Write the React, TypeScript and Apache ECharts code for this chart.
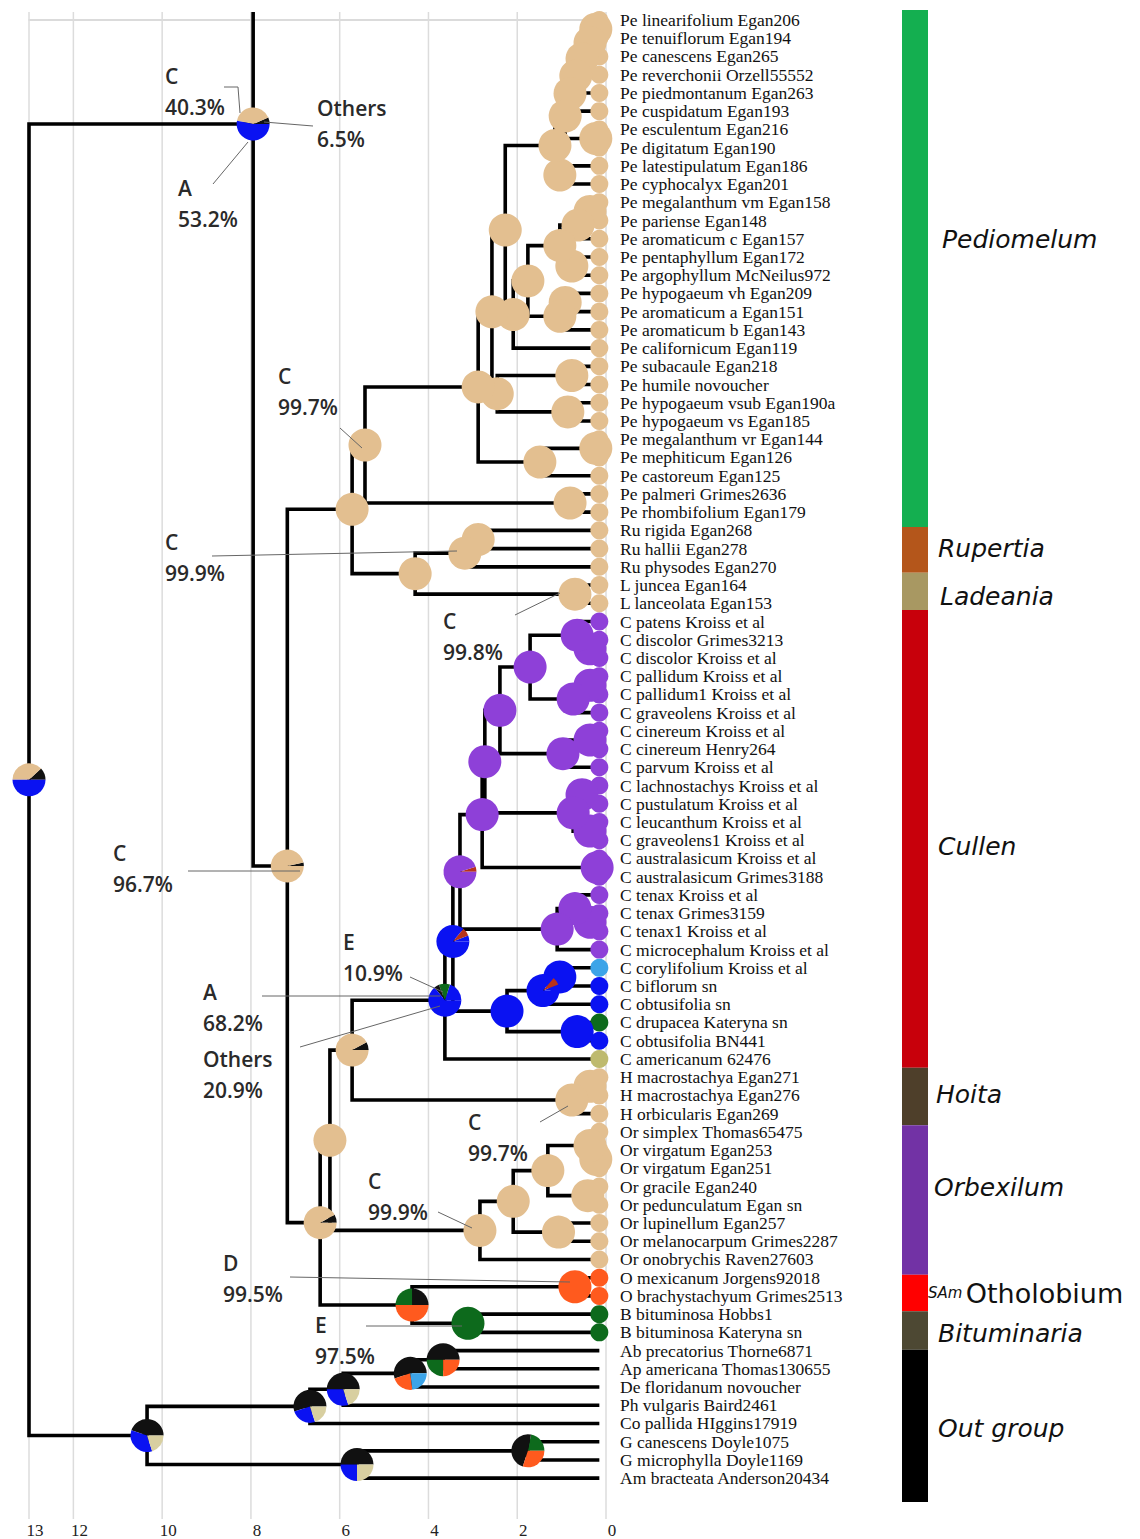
import React, { useEffect, useRef } from 'react';
import * as echarts from 'echarts';

// ---------------- data ----------------
const taxa = [
  'Pe linearifolium Egan206', 'Pe tenuiflorum Egan194', 'Pe canescens Egan265', 'Pe reverchonii Orzell55552',
  'Pe piedmontanum Egan263', 'Pe cuspidatum Egan193', 'Pe esculentum Egan216', 'Pe digitatum Egan190',
  'Pe latestipulatum Egan186', 'Pe cyphocalyx Egan201', 'Pe megalanthum vm Egan158', 'Pe pariense Egan148',
  'Pe aromaticum c Egan157', 'Pe pentaphyllum Egan172', 'Pe argophyllum McNeilus972', 'Pe hypogaeum vh Egan209',
  'Pe aromaticum a Egan151', 'Pe aromaticum b Egan143', 'Pe californicum Egan119', 'Pe subacaule Egan218',
  'Pe humile novoucher', 'Pe hypogaeum vsub Egan190a', 'Pe hypogaeum vs Egan185', 'Pe megalanthum vr Egan144',
  'Pe mephiticum Egan126', 'Pe castoreum Egan125', 'Pe palmeri Grimes2636', 'Pe rhombifolium Egan179',
  'Ru rigida Egan268', 'Ru hallii Egan278', 'Ru physodes Egan270', 'L juncea Egan164', 'L lanceolata Egan153',
  'C patens Kroiss et al', 'C discolor Grimes3213', 'C discolor Kroiss et al', 'C pallidum Kroiss et al',
  'C pallidum1 Kroiss et al', 'C graveolens Kroiss et al', 'C cinereum Kroiss et al', 'C cinereum Henry264',
  'C parvum Kroiss et al', 'C lachnostachys Kroiss et al', 'C pustulatum Kroiss et al', 'C leucanthum Kroiss et al',
  'C graveolens1 Kroiss et al', 'C australasicum Kroiss et al', 'C australasicum Grimes3188', 'C tenax Kroiss et al',
  'C tenax Grimes3159', 'C tenax1 Kroiss et al', 'C microcephalum Kroiss et al', 'C corylifolium Kroiss et al',
  'C biflorum sn', 'C obtusifolia sn', 'C drupacea Kateryna sn', 'C obtusifolia BN441', 'C americanum 62476',
  'H macrostachya Egan271', 'H macrostachya Egan276', 'H orbicularis Egan269',
  'Or simplex Thomas65475', 'Or virgatum Egan253', 'Or virgatum Egan251', 'Or gracile Egan240',
  'Or pedunculatum Egan sn', 'Or lupinellum Egan257', 'Or melanocarpum Grimes2287', 'Or onobrychis Raven27603',
  'O mexicanum Jorgens92018', 'O brachystachyum Grimes2513', 'B bituminosa Hobbs1', 'B bituminosa Kateryna sn',
  'Ab precatorius Thorne6871', 'Ap americana Thomas130655', 'De floridanum novoucher', 'Ph vulgaris Baird2461',
  'Co pallida HIggins17919', 'G canescens Doyle1075', 'G microphylla Doyle1169', 'Am bracteata Anderson20434',
];

// ancestral area of each tip (one letter per taxon, '-' = no pie)
const tipAreas = [
  'CCCCCCCCCC', 'CCCCCCCCCC', 'CCCCCCCC', // Pediomelum (28)
  'CCC', 'CC', // Rupertia, Ladeania
  'PPPPPPPPPP', 'PPPPPPPPP', // Cullen, Australia (19)
  'LAAGAK', // other Cullen
  'CCC', // Hoita
  'CCCCCCCC', // Orbexilum
  'OO', 'GG', // Otholobium, Bituminaria
  '--------', // out group
].join('');

const TIP_AGE = 0.15;
const OFF_FIGURE = -35; // sister lineage above the cropped figure

// internal nodes: [id, age (Ma), children (node ids or tip indices), area probabilities]
const nodeDefs: [string, number, (string | number)[], string][] = [
  ['pa', 0.23, [0, 1], 'C'],
  ['pb', 0.36, ['pa', 2], 'C'],
  ['pc', 0.54, ['pb', 3], 'C'],
  ['pd', 0.68, ['pc', 4], 'C'],
  ['pe', 0.81, ['pd', 5], 'C'],
  ['pf', 0.23, [6, 7], 'C'],
  ['pg', 0.92, ['pe', 'pf'], 'C'],
  ['ph', 1.04, [8, 9], 'C'],
  ['pi', 1.15, ['pg', 'ph'], 'C'],
  ['pj', 0.36, [10, 11], 'C'],
  ['pk', 0.63, ['pj', 12], 'C'],
  ['pl', 0.77, [13, 14], 'C'],
  ['pm', 1.04, ['pk', 'pl'], 'C'],
  ['pn', 0.92, [15, 16], 'C'],
  ['po', 1.04, ['pn', 17], 'C'],
  ['pp', 1.76, ['pm', 'po'], 'C'],
  ['pq', 2.09, ['pp', 18], 'C'],
  ['pr', 2.27, ['pi', 'pq'], 'C'],
  ['ps', 0.77, [19, 20], 'C'],
  ['pt', 0.86, [21, 22], 'C'],
  ['pu', 2.45, ['ps', 'pt'], 'C'],
  ['pv', 2.57, ['pr', 'pu'], 'C'],
  ['pw', 0.23, [23, 24], 'C'],
  ['px', 1.49, ['pw', 25], 'C'],
  ['py', 2.88, ['pv', 'px'], 'C'],
  ['pz', 0.81, [26, 27], 'C'],
  ['P', 5.43, ['py', 'pz'], 'C'],
  ['ra', 2.88, [28, 29], 'C'],
  ['rb', 3.18, ['ra', 30], 'C'],
  ['la', 0.7, [31, 32], 'C'],
  ['RL', 4.3, ['rb', 'la'], 'C'],
  ['PRL', 5.72, ['P', 'RL'], 'C'],
  ['ca', 0.36, [34, 35], 'P'],
  ['cb', 0.65, [33, 'ca'], 'P'],
  ['cc', 0.36, [36, 37], 'P'],
  ['cd', 0.74, ['cc', 38], 'P'],
  ['ce', 1.71, ['cb', 'cd'], 'P'],
  ['cf', 0.36, [39, 40], 'P'],
  ['cg', 0.97, ['cf', 41], 'P'],
  ['ch', 2.39, ['ce', 'cg'], 'P'],
  ['ci', 0.54, [42, 43], 'P'],
  ['cj', 0.36, [44, 45], 'P'],
  ['ck', 0.74, ['ci', 'cj'], 'P'],
  ['cl', 2.73, ['ch', 'ck'], 'P'],
  ['cm', 0.2, [46, 47], 'P'],
  ['cn', 2.79, ['cl', 'cm'], 'P'],
  ['co', 0.36, [49, 50], 'P'],
  ['cp', 0.7, [48, 'co'], 'P'],
  ['cq', 1.1, ['cp', 51], 'P'],
  ['cr', 3.29, ['cn', 'cq'], 'R.05 P.95'],
  ['cs', 1.04, [52, 53], 'A'],
  ['ct', 1.42, ['cs', 54], 'A.06 R.08 A.86'],
  ['cu', 0.65, [55, 56], 'A'],
  ['cv', 2.23, ['ct', 'cu'], 'A'],
  ['cw', 3.45, ['cr', 'cv'], 'A.06 R.08 A.86'],
  ['cx', 3.63, ['cw', 57], 'A.2 G.109 X.05 A.641'],
  ['ha', 0.36, [58, 59], 'C'],
  ['hb', 0.77, ['ha', 60], 'C'],
  ['X3', 5.72, ['cx', 'hb'], 'X.08 C.92'],
  ['oa', 0.23, [62, 63], 'C'],
  ['ob', 0.36, [61, 'oa'], 'C'],
  ['oc', 0.41, [64, 65], 'C'],
  ['od', 1.31, ['ob', 'oc'], 'C'],
  ['oe', 1.07, [66, 67], 'C'],
  ['of', 2.09, ['od', 'oe'], 'C'],
  ['og', 2.84, ['of', 68], 'C'],
  ['X4', 6.22, ['X3', 'og'], 'C'],
  ['ot', 0.7, [69, 70], 'O'],
  ['bi', 3.11, [71, 72], 'G'],
  ['OB', 4.37, ['ot', 'bi'], 'X.25 G.25 O.5'],
  ['X5', 6.44, ['X4', 'OB'], 'X.08 C.92'],
  ['C967', 7.18, ['PRL', 'X5'], 'X.033 C.967'],
  ['Top', 7.95, [OFF_FIGURE, 'C967'], 'X.065 C.403 A.532'],
  ['g1', 3.67, [73, 74], 'X.5 G.25 O.25'],
  ['g2', 4.41, ['g1', 75], 'X.55 O.22 L.23'],
  ['g3', 5.92, ['g2', 76], 'X.5 A.3 B.2'],
  ['g4', 6.67, ['g3', 77], 'X.55 A.25 B.2'],
  ['g5', 1.76, [78, 79], 'G.22 X.48 O.3'],
  ['g6', 5.61, ['g5', 80], 'X.5 A.25 B.25'],
  ['OG', 10.34, ['g4', 'g6'], 'X.45 A.35 B.2'],
  ['Root', 13.0, ['Top', 'OG'], 'X.12 C.38 A.5'],
];

const axisTickValues = [13, 12, 10, 8, 6, 4, 2, 0];

const genusNames = ['Pediomelum', 'Rupertia', 'Ladeania', 'Cullen', 'Hoita', 'Orbexilum', 'SAm Otholobium', 'Bituminaria', 'Out group'];
const genusFrom = [-0.55, 27.8, 30.3, 32.35, 57.45, 60.6, 68.8, 70.8, 72.9];
const genusTo = [27.8, 30.3, 32.35, 57.45, 60.6, 68.8, 70.8, 72.9, 81.25];

// ---------------- styles / layout ----------------
const areaColors: Record<string, string> = {
  C: '#E3BF90', A: '#0A12F2', P: '#8E40D8', O: '#FF5A1E', G: '#0D6A1C',
  L: '#3CA4E8', K: '#BEBA6E', X: '#111111', R: '#B8321A', B: '#D8CFA0',
};
const genusColors = ['#14AF50', '#B4561B', '#A89862', '#C8000B', '#4E3F2A', '#7232A5', '#FF0000', '#4D4833', '#000000'];
const genusLabelAt = [12.06, 28.95, 31.6, 45.3, 58.9, 64.0, 69.8, 72.0, 77.2];
const genusLabelDx = [14, 10, 12, 10, 8, 6, 0, 10, 10];

const annotations = [
  { lines: ['C', '40.3%'], x: 165, y: 60, leader: [[224, 87], [238, 87], [240, 113]] },
  { lines: ['Others', '6.5%'], x: 317, y: 92, leader: [[313, 126], [264, 122]] },
  { lines: ['A', '53.2%'], x: 178, y: 172, leader: [[213, 184], [248, 142]] },
  { lines: ['C', '99.7%'], x: 278, y: 360, leader: [[340, 428], [362, 448]] },
  { lines: ['C', '99.9%'], x: 165, y: 526, leader: [[212, 556], [457, 551]] },
  { lines: ['C', '99.8%'], x: 443, y: 605, leader: [[515, 615], [560, 593]] },
  { lines: ['C', '96.7%'], x: 113, y: 837, leader: [[188, 871], [300, 871]] },
  { lines: ['E', '10.9%'], x: 343, y: 926, leader: [[410, 977], [443, 992]] },
  { lines: ['A', '68.2%'], x: 203, y: 976, leader: [[262, 996], [440, 996]] },
  { lines: ['Others', '20.9%'], x: 203, y: 1043, leader: [[300, 1047], [440, 1006]] },
  { lines: ['C', '99.7%'], x: 468, y: 1106, leader: [[540, 1122], [568, 1106]] },
  { lines: ['C', '99.9%'], x: 368, y: 1165, leader: [[438, 1212], [472, 1228]] },
  { lines: ['D', '99.5%'], x: 223, y: 1247, leader: [[290, 1277], [570, 1282]] },
  { lines: ['E', '97.5%'], x: 315, y: 1309, leader: [[366, 1326], [462, 1326]] },
];

const Y_MIN = -0.44;
const Y_MAX = 82.24;

type Slice = { c: string; f: number };
function parsePie(spec: string): Slice[] {
  return spec.split(' ').map((tok) => ({ c: tok[0], f: tok.length > 1 ? parseFloat(tok.slice(1)) : 1 }));
}

function buildTree() {
  const pos: Record<string, { age: number; y: number }> = {};
  const get = (k: string | number) => (typeof k === 'number' ? { age: TIP_AGE, y: k } : pos[k]);
  const lines: number[][][] = [];
  const pies: { age: number; y: number; slices: Slice[]; r: number }[] = [];
  taxa.forEach((_, i) => {
    const a = tipAreas[i];
    if (a && a !== '-') pies.push({ age: TIP_AGE, y: i, slices: [{ c: a, f: 1 }], r: 9 });
  });
  for (const [id, age, kids, spec] of nodeDefs) {
    const ks = kids.map(get);
    const first = ks[0];
    const last = ks[ks.length - 1];
    const y = (first.y + last.y) / 2;
    pos[id] = { age, y };
    const pts: number[][] = [];
    if (first.y >= Y_MIN) pts.push([first.age, first.y], [age, first.y]);
    else pts.push([age, Y_MIN]);
    pts.push([age, last.y], [last.age, last.y]);
    lines.push(pts);
    for (let j = 1; j < ks.length - 1; j++) lines.push([[age, ks[j].y], [ks[j].age, ks[j].y]]);
    pies.push({ age, y, slices: parsePie(spec), r: 16.5 });
  }
  return { lines, pies };
}

export default function App() {
  const ref = useRef<HTMLDivElement>(null);
  useEffect(() => {
    document.body.style.margin = '0';
    if (!ref.current) return;
    const chart = echarts.init(ref.current, undefined, { renderer: 'svg' });
    const { lines, pies } = buildTree();

    const option: any = {
      animation: false,
      backgroundColor: '#ffffff',
      grid: [
        { left: 29, top: 12, width: 577, height: 1508 },
        { left: 902, top: 12, width: 26, height: 1508 },
      ],
      xAxis: [
        {
          type: 'value', gridIndex: 0, min: 0, max: 13, interval: 1, inverse: true,
          splitLine: { show: false }, axisTick: { show: false },
          axisLine: { show: true, lineStyle: { color: '#cfcfcf', width: 1.5 } },
          axisLabel: {
            margin: 3, padding: [0, 0, 0, 12], color: '#222', fontFamily: 'Liberation Serif', fontSize: 17,
            formatter: (v: number) => (axisTickValues.indexOf(v) >= 0 ? String(v) : ''),
          },
        },
        { type: 'value', gridIndex: 1, min: 0, max: 1, show: false },
      ],
      yAxis: [
        { type: 'value', gridIndex: 0, min: Y_MIN, max: Y_MAX, inverse: true, show: false },
        { type: 'value', gridIndex: 1, min: Y_MIN, max: Y_MAX, inverse: true, show: false },
      ],
      series: [
        {
          type: 'custom', name: 'grid lines', silent: true, z: 1,
          xAxisIndex: 0, yAxisIndex: 0,
          data: axisTickValues.map((t) => [t, 0]),
          renderItem: (params: any, api: any) => {
            const c = api.coord([api.value(0), 0]);
            const cs = params.coordSys;
            return {
              type: 'line',
              shape: { x1: c[0], y1: cs.y, x2: c[0], y2: cs.y + cs.height },
              style: { stroke: '#dcdcdc', lineWidth: 1.5 },
            };
          },
        },
        {
          type: 'custom', name: 'branches', silent: true, z: 2,
          xAxisIndex: 0, yAxisIndex: 0,
          data: lines.map((l) => [l[0][0], l[0][1]]),
          renderItem: (params: any, api: any) => {
            const pts = lines[params.dataIndex].map((p) => api.coord(p));
            return {
              type: 'polyline',
              shape: { points: pts },
              style: { stroke: '#000', lineWidth: 3.6, fill: 'none', lineJoin: 'miter' },
            };
          },
        },
        {
          type: 'custom', name: 'areas', silent: true, z: 3,
          xAxisIndex: 0, yAxisIndex: 0,
          data: pies.map((p) => [p.age, p.y]),
          renderItem: (params: any, api: any) => {
            const p = pies[params.dataIndex];
            const c = api.coord([api.value(0), api.value(1)]);
            if (p.slices.length === 1) {
              return {
                type: 'circle',
                shape: { cx: c[0], cy: c[1], r: p.r },
                style: { fill: areaColors[p.slices[0].c] },
              };
            }
            let cum = 0;
            const children = p.slices.map((s) => {
              const a0 = cum * Math.PI * 2;
              cum += s.f;
              const a1 = cum * Math.PI * 2;
              return {
                type: 'sector',
                shape: { cx: c[0], cy: c[1], r: p.r, r0: 0, startAngle: -a0, endAngle: -a1, clockwise: false },
                style: { fill: areaColors[s.c] },
              };
            });
            return { type: 'group', children };
          },
        },
        {
          type: 'custom', name: 'taxa', silent: true, z: 4,
          xAxisIndex: 0, yAxisIndex: 0,
          data: taxa.map((_, i) => [0, i]),
          renderItem: (params: any, api: any) => {
            const c = api.coord([0, api.value(1)]);
            return {
              type: 'text',
              x: c[0] + 14,
              y: c[1],
              style: {
                text: taxa[params.dataIndex],
                fill: '#111',
                font: '17.5px "Liberation Serif"',
                align: 'left', verticalAlign: 'middle',
                textAlign: 'left', textVerticalAlign: 'middle',
              },
            };
          },
        },
        {
          type: 'custom', name: 'genera', silent: true, z: 2,
          xAxisIndex: 1, yAxisIndex: 1,
          data: genusNames.map((_, i) => [0, genusFrom[i], genusTo[i]]),
          renderItem: (params: any, api: any) => {
            const i = params.dataIndex;
            const a = api.coord([0, api.value(1)]);
            const b = api.coord([1, api.value(2)]);
            const l = api.coord([1, genusLabelAt[i]]);
            const name = genusNames[i];
            const isSAm = name.indexOf('SAm ') === 0;
            return {
              type: 'group',
              children: [
                {
                  type: 'rect',
                  shape: { x: a[0], y: a[1], width: b[0] - a[0], height: b[1] - a[1] },
                  style: { fill: genusColors[i] },
                },
                {
                  type: 'text',
                  x: b[0] + genusLabelDx[i],
                  y: l[1],
                  style: isSAm
                    ? {
                        text: '{s|SAm} {b|' + name.slice(4) + '}',
                        fill: '#111',
                        align: 'left', verticalAlign: 'middle',
                        textAlign: 'left', textVerticalAlign: 'middle',
                        rich: {
                          s: { fontFamily: 'DejaVu Sans', fontStyle: 'italic', fontSize: 15, fill: '#111' },
                          b: { fontFamily: 'DejaVu Sans', fontSize: 27, fill: '#111' },
                        },
                      }
                    : {
                        text: name,
                        fill: '#111',
                        font: 'italic 25px "DejaVu Sans"',
                        align: 'left', verticalAlign: 'middle',
                        textAlign: 'left', textVerticalAlign: 'middle',
                      },
                },
              ],
            };
          },
        },
      ],
      graphic: annotations.flatMap((an) => [
        {
          type: 'polyline', z: 50, silent: true,
          shape: { points: an.leader },
          style: { stroke: '#666', lineWidth: 1, fill: 'none' },
        },
        {
          type: 'text', z: 51, silent: true,
          x: an.x, y: an.y,
          style: {
            text: an.lines.join('\n'),
            fill: '#2a2a2a',
            font: '600 21px "Open Sans"',
            lineHeight: 31,
            textVerticalAlign: 'top', verticalAlign: 'top',
          },
        },
      ]),
    };
    chart.setOption(option);
    return () => chart.dispose();
  }, []);
  return <div ref={ref} style={{ width: 1140, height: 1539 }} />;
}
